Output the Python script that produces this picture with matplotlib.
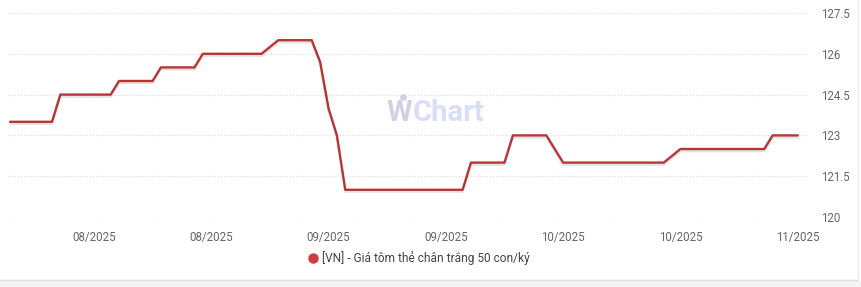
import matplotlib
matplotlib.use("Agg")
import matplotlib.pyplot as plt
import matplotlib.dates as mdates
import matplotlib.patheffects as pe
import pandas as pd

# ---- data ----
dates = ["2025-08-01", "2025-08-06", "2025-08-07", "2025-08-13", "2025-08-14",
         "2025-08-18", "2025-08-19", "2025-08-23", "2025-08-24", "2025-08-31",
         "2025-09-01", "2025-09-02", "2025-09-06", "2025-09-07", "2025-09-08",
         "2025-09-09", "2025-09-10", "2025-09-24", "2025-09-25", "2025-09-29",
         "2025-09-30", "2025-10-04", "2025-10-05", "2025-10-06", "2025-10-18",
         "2025-10-19", "2025-10-20", "2025-10-30", "2025-10-31", "2025-11-03"]
prices = [123.5, 123.5, 124.5, 124.5, 125.0,
          125.0, 125.5, 125.5, 126.0, 126.0,
          126.25, 126.5, 126.5, 125.7, 124.0,
          123.0, 121.0, 121.0, 122.0, 122.0,
          123.0, 123.0, 122.5, 122.0, 122.0,
          122.25, 122.5, 122.5, 123.0, 123.0]
x_ticks = ["2025-08-11", "2025-08-25", "2025-09-08", "2025-09-22",
           "2025-10-06", "2025-10-20", "2025-11-03"]
y_ticks = [120, 121.5, 123, 124.5, 126, 127.5]
y_tick_labels = ["120", "121.5", "123", "124.5", "126", "127.5"]
series_name = "[VN] - Giá tôm thẻ chân trắng 50 con/ký"

plt.rcParams['font.family'] = ['Roboto', 'DejaVu Sans']

fig = plt.figure(figsize=(8.61, 2.87), dpi=100)
fig.patch.set_facecolor("white")
W, H = 861, 287
ax = fig.add_axes([8 / W, (H - 217) / H, 799 / W, 204 / H])

d = pd.to_datetime(dates)
line_color = "#b83535"
ax.plot(d, prices, color=line_color, lw=1.7, solid_joinstyle="round",
        solid_capstyle="round",
        path_effects=[pe.SimpleLineShadow(offset=(0, -1.5), shadow_color="#888888", alpha=0.22, rho=1),
                      pe.Normal()], zorder=3)

start = pd.Timestamp("2025-08-01")
ax.set_xlim(start - pd.Timedelta(hours=6), start + pd.Timedelta(days=95.1))
ax.set_ylim(120, 127.5)

ax.set_yticks(y_ticks)
ax.set_yticklabels(y_tick_labels)
ax.yaxis.tick_right()
ax.set_xticks(pd.to_datetime(x_ticks))
ax.xaxis.set_major_formatter(mdates.DateFormatter("%m/%Y"))

ax.tick_params(axis="both", length=0, labelsize=8.3, labelcolor="#666666")
ax.tick_params(axis="y", pad=10)
ax.tick_params(axis="x", pad=10)

ax.grid(axis="y", color="#dddddd", linestyle=(0, (1, 1.5)), linewidth=0.9)
ax.grid(axis="x", visible=False)
for s in ax.spines.values():
    s.set_visible(False)

# watermark
fig.text(412 / W, (H - 113) / H, "W", ha="right", va="center",
         fontsize=21, fontweight="bold", color="#d0d2e2", zorder=1)
fig.text(413 / W, (H - 113) / H, "Chart", ha="left", va="center",
         fontsize=21, fontweight="bold", color="#d9ddf6", zorder=1)
fig.add_artist(plt.Line2D([403 / W], [(H - 97) / H], transform=fig.transFigure,
                          marker="o", markersize=4, color="#d0d2e2", lw=0))

# legend
fig.add_artist(plt.Line2D([313 / W], [(H - 258) / H], transform=fig.transFigure,
                          marker="o", markersize=6.5, color="#cf3d3d", lw=0))
fig.text(322 / W, (H - 258) / H, series_name, ha="left", va="center",
         fontsize=8.6, color="#444444")

# frame lines
fig.add_artist(plt.Line2D([0, 858 / W], [(H - 280) / H] * 2, transform=fig.transFigure,
                          color="#dddddd", lw=1))
fig.add_artist(plt.Line2D([858 / W] * 2, [(H - 280) / H, 1], transform=fig.transFigure,
                          color="#eeeeee", lw=1))
fig.add_artist(matplotlib.patches.Rectangle((0, 0), 1, (H - 281) / H, transform=fig.transFigure,
                                            color="#f4f4f4", lw=0))

fig.savefig("out.png", dpi=100)
